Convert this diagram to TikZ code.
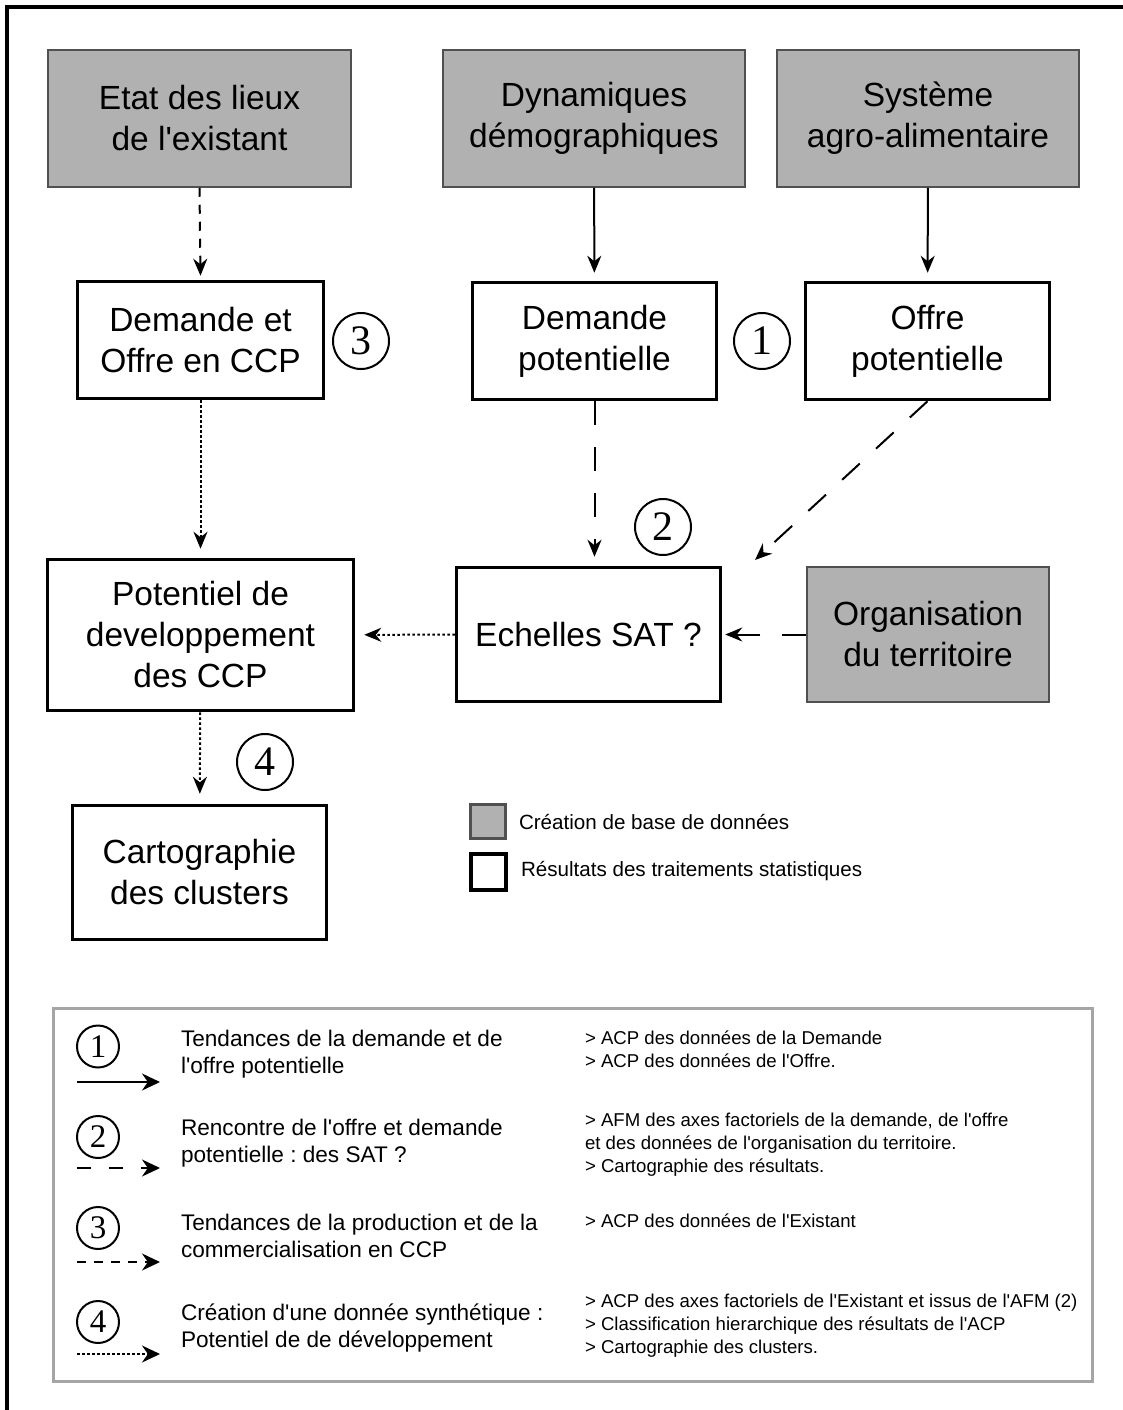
\documentclass[tikz,border=0pt]{standalone}
\usepackage{fontspec}
\setmainfont{Liberation Sans}
\newfontfamily\digitfont{Liberation Serif}
\usetikzlibrary{arrows.meta}
\frenchspacing
\definecolor{dbgray}{RGB}{177,177,177}
\definecolor{dbedge}{RGB}{80,80,80}
\definecolor{legedge}{RGB}{165,165,165}
\newcommand{\boxfont}{\fontsize{33.5}{41}\selectfont}
\newcommand{\legfont}{\fontsize{22.6}{27}\selectfont}
\newcommand{\notefont}{\fontsize{18.6}{23}\selectfont}
\newcommand{\apos}{\textquotesingle}
% one line of the key: number, arrow, and the two texts
\newcommand{\legrow}[8]
{\node[legnum] (l#1) at (98,#2) {#1};
\coordinate (la#1) at (77,#3);
\coordinate (lb#1) at (160,#3);
\draw[#4,>={Stealth[length=18pt,width=17pt]}] (la#1) -- (lb#1);
\node[legtxt] (lt#1) at (180,#5) {#6};
\node[legnote] (ln#1) at (584,#7) {#8};
}
\tikzset{
	dbbox/.style={draw=dbedge,line width=1.5pt,fill=dbgray,align=center,font=\boxfont,inner sep=0pt},
	resbox/.style={draw,line width=3.5pt,fill=white,align=center,font=\boxfont,inner sep=0pt},
	mainnum/.style={circle,draw,line width=2pt,minimum size=56pt,inner sep=0pt,font=\digitfont\fontsize{42}{42}\selectfont},
	legnum/.style={circle,draw,line width=2pt,minimum size=42pt,inner sep=0pt,font=\digitfont\fontsize{33}{33}\selectfont},
	legtxt/.style={anchor=west,align=left,inner sep=0pt,font=\legfont},
	legnote/.style={anchor=west,align=left,inner sep=0pt,font=\notefont},
	flowsolid/.style={->},
	flowlong/.style={->,dash pattern=on 24pt off 22pt},
	legdash/.style={->,dash pattern=on 14pt off 18pt},
	flowdash/.style={->,dash pattern=on 9pt off 8pt},
	flowdot/.style={->,dash pattern=on 2.5pt off 2.5pt}
}
\begin{document}
\begin{tikzpicture}[x=1pt,y=-1pt,line width=2pt,>={Stealth[length=17pt,width=14pt]}]
	\useasboundingbox (0,0) rectangle (1123,1410);
	\draw[line width=4pt] (7,1410) -- (7,7) -- (1123,7);
	% data sources
	\node[dbbox,minimum width=303pt,minimum height=137pt] (etat) at (199.5,118.5) {Etat des lieux\\de l\apos existant};
	\node[dbbox,minimum width=302pt,minimum height=137pt] (dyn) at (594,118.5) {Dynamiques\\démographiques};
	\node[dbbox,minimum width=302pt,minimum height=137pt] (sys) at (928,118.5) {Système\\agro-alimentaire};
	\node[dbbox,minimum width=242pt,minimum height=135pt] (org) at (928,634.5) {Organisation\\du territoire};
	% results
	\node[resbox,minimum width=246pt,minimum height=117pt] (ccp) at (200.5,340) {Demande et\\Offre en CCP};
	\node[resbox,minimum width=244pt,minimum height=117pt] (dpot) at (594.5,341) {Demande\\potentielle};
	\node[resbox,minimum width=244pt,minimum height=117pt] (opot) at (927.5,341) {Offre\\potentielle};
	\node[resbox,minimum width=306pt,minimum height=151pt] (pot) at (200.5,635) {Potentiel de\\developpement\\des CCP};
	\node[resbox,minimum width=264pt,minimum height=134pt] (ech) at (588.5,634.5) {Echelles SAT ?};
	\node[resbox,minimum width=254pt,minimum height=134pt] (carto) at (199.5,872.5) {Cartographie\\des clusters};
	% steps
	\node[mainnum] (c1) at (762,341) {1};
	\node[mainnum] (c2) at (663,527) {2};
	\node[mainnum] (c3) at (361,341) {3};
	\node[mainnum] (c4) at (265,762) {4};
	% links
	\draw[flowdash,shorten >=4pt] (etat.south) -- (ccp.north);
	\draw[flowsolid,shorten >=8pt] (dyn) -- (dpot);
	\draw[flowsolid,shorten >=8pt] (sys) -- (opot);
	\draw[flowlong,shorten >=9pt] (dpot.south) -- (dpot.south |- ech.north);
	\coordinate (echin) at (755,560);
	\draw[flowlong] (opot.south) -- (echin);
	\draw[flowlong,shorten >=3pt] (org) -- (ech);
	\draw[flowdot,shorten >=9pt] (ccp) -- (pot);
	\draw[flowdot,shorten >=9pt] (ech) -- (pot);
	\draw[flowdot,shorten >=10pt] (pot) -- (carto);
	% box key
	\node[draw=dbedge,line width=2.5pt,fill=dbgray,minimum width=35pt,minimum height=34pt] (sqdb) at (488,821.5) {};
	\node[draw,line width=3.5pt,fill=white,minimum width=35pt,minimum height=36pt] (sqres) at (488.5,872) {};
	\node[anchor=west,inner sep=0pt,font=\fontsize{20.6}{25}\selectfont] (txdb) at (518,822) {Création de base de données};
	\node[anchor=west,inner sep=0pt,font=\fontsize{20.6}{25}\selectfont] (txres) at (520,871) {Résultats des traitements statistiques};
	% arrow key
	\node[draw=legedge,line width=3pt,minimum width=1039pt,minimum height=373pt] (legbox) at (573,1194.5) {};
	\legrow{1}{1046.5}{1082}{flowsolid}{1054}{Tendances de la demande et de\\l\apos offre potentielle}{1049}{> ACP des données de la Demande\\> ACP des données de l\apos Offre.}
	\legrow{2}{1137}{1168}{legdash}{1143}{Rencontre de l\apos offre et demande\\potentielle : des SAT ?}{1144.5}{> AFM des axes factoriels de la demande, de l\apos offre\\et des données de l\apos organisation du territoire.\\> Cartographie des résultats.}
	\legrow{3}{1228}{1262}{flowdash}{1236}{Tendances de la production et de la\\commercialisation en CCP}{1221}{> ACP des données de l\apos Existant}
	\legrow{4}{1322}{1354}{flowdot}{1328}{Création d\apos une donnée synthétique :\\Potentiel de de développement}{1326}{> ACP des axes factoriels de l\apos Existant et issus de l\apos AFM (2)\\> Classification hierarchique des résultats de l\apos ACP\\> Cartographie des clusters.}
\end{tikzpicture}
\end{document}
